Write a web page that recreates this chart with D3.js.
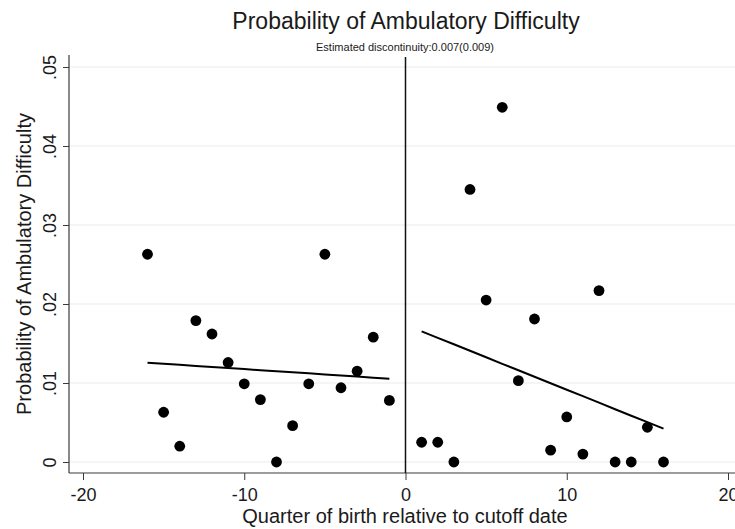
<!DOCTYPE html>
<html>
<head>
<meta charset="utf-8">
<script src="https://cdn.jsdelivr.net/npm/d3@7"></script>
<style>
  html, body { margin: 0; padding: 0; background: #fff; }
  svg { display: block; font-family: "Liberation Sans", Arial, sans-serif; }
</style>
</head>
<body>
<svg id="chart" width="735" height="529"></svg>
<script>
// Quarter of birth relative to the cutoff date, binned means
const leftQuarters  = [-16, -15, -14, -13, -12, -11, -10, -9, -8, -7, -6, -5, -4, -3, -2, -1];
const leftMeans     = [0.0263, 0.0063, 0.0020, 0.0179, 0.0162, 0.0126, 0.0099, 0.0079, 0.0000, 0.0046, 0.0099, 0.0263, 0.0094, 0.0115, 0.0158, 0.0078];
const leftFitted    = [0.01257, 0.01243, 0.01230, 0.01216, 0.01203, 0.01189, 0.01176, 0.01162, 0.01149, 0.01135, 0.01122, 0.01108, 0.01095, 0.01081, 0.01068, 0.01054];

const rightQuarters = [1, 2, 3, 4, 5, 6, 7, 8, 9, 10, 11, 12, 13, 14, 15, 16];
const rightMeans    = [0.0025, 0.0025, 0.0000, 0.0345, 0.0205, 0.0449, 0.0103, 0.0181, 0.0015, 0.0057, 0.0010, 0.0217, 0.0000, 0.0000, 0.0044, 0.0000];
const rightFitted   = [0.01654, 0.01572, 0.01490, 0.01408, 0.01326, 0.01243, 0.01161, 0.01079, 0.00997, 0.00915, 0.00833, 0.00751, 0.00668, 0.00586, 0.00504, 0.00422];

const xTicks = [-20, -10, 0, 10, 20];
const xTickLabels = ["-20", "-10", "0", "10", "20"];
const yTicks = [0, 0.01, 0.02, 0.03, 0.04, 0.05];
const yTickLabels = ["0", ".01", ".02", ".03", ".04", ".05"];

const titleText = "Probability of Ambulatory Difficulty";
const subtitleText = "Estimated discontinuity:0.007(0.009)";
const xTitle = "Quarter of birth relative to cutoff date";
const yTitle = "Probability of Ambulatory Difficulty";
const cutoff = 0;

const svg = d3.select("#chart");

// plot region
const plotLeft = 69, plotRight = 760, plotTop = 55, plotBottom = 473;

const x = d3.scaleLinear().domain([-20, 20]).range([83, 728]);
const y = d3.scaleLinear().domain([0, 0.05]).range([462, 67]);

const textColor = "#1a1a1a";
const axisColor = "#3a3a3a";

// horizontal grid lines
svg.append("g").selectAll("line").data(yTicks).join("line")
  .attr("x1", plotLeft).attr("x2", plotRight)
  .attr("y1", d => y(d)).attr("y2", d => y(d))
  .attr("stroke", "#ececec").attr("stroke-width", 1.2);

// y axis with vertical tick labels
const yAxis = d3.axisLeft(y).tickValues(yTicks)
  .tickFormat((d, i) => yTickLabels[i]).tickSize(6).tickSizeOuter(0);
const gy = svg.append("g").attr("transform", `translate(${plotLeft},0)`).call(yAxis);
gy.select(".domain").remove();
gy.selectAll(".tick line").attr("stroke", axisColor);
gy.selectAll(".tick text")
  .attr("fill", textColor).attr("font-size", 18)
  .attr("font-family", "Liberation Sans, Arial, sans-serif")
  .attr("transform", "rotate(-90)")
  .attr("x", 0).attr("y", -13).attr("dy", 0)
  .attr("text-anchor", "middle");
svg.append("line")
  .attr("x1", plotLeft).attr("x2", plotLeft)
  .attr("y1", plotTop).attr("y2", plotBottom)
  .attr("stroke", axisColor).attr("stroke-width", 1.2);

// x axis
const xAxis = d3.axisBottom(x).tickValues(xTicks)
  .tickFormat((d, i) => xTickLabels[i]).tickSize(7).tickSizeOuter(0);
const gx = svg.append("g").attr("transform", `translate(0,${plotBottom})`).call(xAxis);
gx.select(".domain").remove();
gx.selectAll(".tick line").attr("stroke", axisColor);
gx.selectAll(".tick text")
  .attr("fill", textColor).attr("font-size", 18)
  .attr("font-family", "Liberation Sans, Arial, sans-serif")
  .attr("y", 28).attr("dy", 0);
svg.append("line")
  .attr("x1", plotLeft).attr("x2", plotRight)
  .attr("y1", plotBottom).attr("y2", plotBottom)
  .attr("stroke", axisColor).attr("stroke-width", 1.2);

// cutoff line
svg.append("line")
  .attr("x1", x(cutoff)).attr("x2", x(cutoff))
  .attr("y1", 57).attr("y2", plotBottom)
  .attr("stroke", "#111").attr("stroke-width", 1.5);

// scatter of binned means
const pts = leftQuarters.map((q, i) => ({ q, v: leftMeans[i] }))
  .concat(rightQuarters.map((q, i) => ({ q, v: rightMeans[i] })));
svg.append("g").selectAll("circle").data(pts).join("circle")
  .attr("cx", d => x(d.q)).attr("cy", d => y(d.v))
  .attr("r", 5.4).attr("fill", "#000");

// fitted lines on each side of the cutoff
const line = d3.line().x(d => x(d[0])).y(d => y(d[1]));
svg.append("path")
  .datum(leftQuarters.map((q, i) => [q, leftFitted[i]]))
  .attr("d", line).attr("fill", "none").attr("stroke", "#000").attr("stroke-width", 2);
svg.append("path")
  .datum(rightQuarters.map((q, i) => [q, rightFitted[i]]))
  .attr("d", line).attr("fill", "none").attr("stroke", "#000").attr("stroke-width", 2);

// titles
svg.append("text").attr("x", 406).attr("y", 29)
  .attr("text-anchor", "middle").attr("font-size", 23).attr("fill", textColor)
  .text(titleText);
svg.append("text").attr("x", 405).attr("y", 51)
  .attr("text-anchor", "middle").attr("font-size", 11).attr("fill", textColor)
  .text(subtitleText);
svg.append("text").attr("x", 405).attr("y", 523)
  .attr("text-anchor", "middle").attr("font-size", 20).attr("fill", textColor)
  .text(xTitle);
svg.append("text")
  .attr("transform", `translate(31,${(plotTop + plotBottom) / 2}) rotate(-90)`)
  .attr("text-anchor", "middle").attr("font-size", 20).attr("fill", textColor)
  .text(yTitle);
</script>
</body>
</html>
